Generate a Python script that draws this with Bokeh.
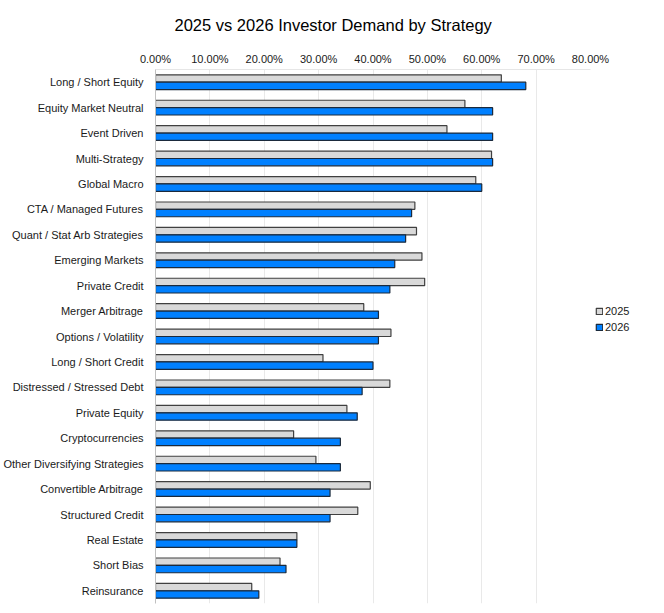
from bokeh.plotting import figure
from bokeh.models import (ColumnDataSource, FactorRange, Range1d, FixedTicker,
                          PrintfTickFormatter, Legend, LegendItem)
from bokeh.transform import dodge
from bokeh.embed import file_html
from bokeh.resources import INLINE

# Strategies, top to bottom
strategies = [
    "Long / Short Equity", "Equity Market Neutral", "Event Driven", "Multi-Strategy",
    "Global Macro", "CTA / Managed Futures", "Quant / Stat Arb Strategies",
    "Emerging Markets", "Private Credit", "Merger Arbitrage", "Options / Volatility",
    "Long / Short Credit", "Distressed / Stressed Debt", "Private Equity",
    "Cryptocurrencies", "Other Diversifying Strategies", "Convertible Arbitrage",
    "Structured Credit", "Real Estate", "Short Bias", "Reinsurance",
]

# Share of investors (%) planning allocations
demand_2025 = [63.6, 56.9, 53.6, 61.8, 58.9, 47.7, 48.0, 49.0, 49.5, 38.3, 43.3,
               30.8, 43.1, 35.2, 25.4, 29.5, 39.5, 37.2, 26.0, 22.9, 17.7]
demand_2026 = [68.1, 62.0, 62.0, 62.0, 60.0, 47.1, 46.0, 44.0, 43.1, 41.0, 41.0,
               40.0, 38.0, 37.1, 34.0, 34.0, 32.1, 32.1, 26.0, 24.0, 19.0]

x_ticks = [0, 10, 20, 30, 40, 50, 60, 70, 80]

source = ColumnDataSource(dict(strategy=strategies, y2025=demand_2025, y2026=demand_2026))

FONT = "Liberation Sans"

p = figure(
    frame_width=435, frame_height=534,
    y_range=FactorRange(factors=list(reversed(strategies)), range_padding=0),
    x_range=Range1d(0, 80),
    x_axis_location="above",
    output_backend="svg", toolbar_location=None,
    title="2025 vs 2026 Investor Demand by Strategy",
    min_border_left=154, min_border_right=75, min_border_bottom=10, min_border_top=69,
)

p.title.align = "left"
p.title.vertical_align = "top"
p.title.text_font = FONT
p.title.text_font_size = "16.5px"
p.title.text_font_style = "normal"
p.title.text_color = "#000000"
p.title.offset = 19
p.title.standoff = 27

bar_h = 0.29
r25 = p.hbar(y=dodge("strategy", 0.145, range=p.y_range), right="y2025", left=0,
             height=bar_h, source=source, fill_color="#d9d9d9",
             line_color="#404040", line_width=1.2)
r26 = p.hbar(y=dodge("strategy", -0.145, range=p.y_range), right="y2026", left=0,
             height=bar_h, source=source, fill_color="#0080ff",
             line_color="#1b2a3c", line_width=1.2)

# Top percentage axis
xa = p.xaxis[0]
xa.ticker = FixedTicker(ticks=x_ticks)
xa.formatter = PrintfTickFormatter(format="%.2f%%")
xa.major_label_text_font = FONT
xa.major_label_text_font_size = "11px"
xa.major_label_text_color = "#1a1a1a"
xa.major_tick_line_color = None
xa.minor_tick_line_color = None
xa.axis_line_color = "#e6e6e6"
xa.major_label_standoff = -1

# Strategy axis
ya = p.yaxis[0]
ya.major_label_text_font = FONT
ya.major_label_text_font_size = "11px"
ya.major_label_text_color = "#1a1a1a"
ya.major_tick_line_color = None
ya.minor_tick_line_color = None
ya.axis_line_color = "#c0c0c0"
ya.major_label_standoff = 6

p.xgrid.grid_line_color = "#e9e9e9"
p.ygrid.grid_line_color = None
p.outline_line_color = None

legend = Legend(items=[LegendItem(label="2025", renderers=[r25]),
                       LegendItem(label="2026", renderers=[r26])],
                location=(5, 270), orientation="vertical")
legend.label_text_font = FONT
legend.label_text_font_size = "11px"
legend.label_text_color = "#1a1a1a"
legend.glyph_width = 8
legend.glyph_height = 8
legend.label_standoff = 2
legend.spacing = 4
legend.border_line_color = None
legend.background_fill_alpha = 0
legend.padding = 0
legend.margin = 0
p.add_layout(legend, "right")

open("out.html", "w").write(file_html(p, INLINE))
